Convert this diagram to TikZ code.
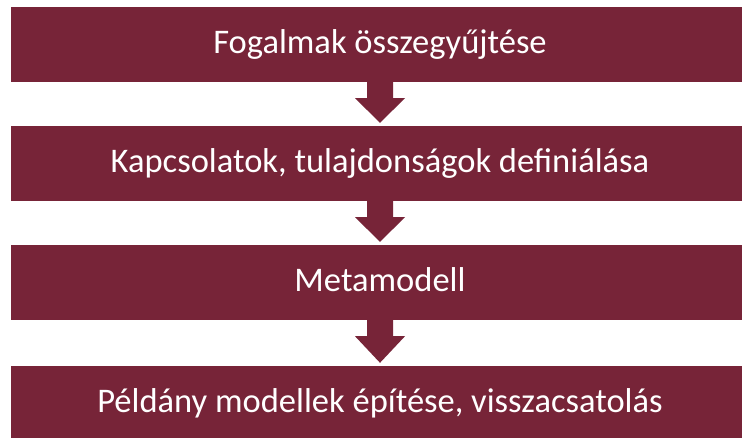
\documentclass[tikz,border=0pt]{standalone}
\usepackage{fontspec}
\setmainfont{Carlito}
\usetikzlibrary{calc}
\definecolor{barc}{RGB}{119,36,56}
\begin{document}
\begin{tikzpicture}[x=1pt,y=1pt,
  bar/.style={fill=barc,text=white,minimum width=738pt,minimum height=75pt,inner sep=0pt,
    font=\fontsize{34.5}{40}\selectfont,text height=22.2pt,text depth=4pt},
  arr/.style={fill=barc}]
\useasboundingbox (0,0) rectangle (742,438);
\clip (0,0) rectangle (742,438);
\fill[white] (0,0) rectangle (742,438);
\node[bar] (a) at (380,{438-44.5}) {Fogalmak összegyűjtése};
\node[bar] (b) at (380,{438-163.5}) {Kapcsolatok, tulajdonságok definiálása};
\node[bar] (c) at (380,{438-282.5}) {Metamodell};
\node[bar] (d) at (380,{438-403.5}) {Példány modellek építése, visszacsatolás};
\foreach \u/\v in {a/b,b/c,c/d}{
  \fill[arr] ($(\u.south)+(-13,0)$) -- ($(\u.south)+(-13,-16)$) -- ($(\u.south)+(-25,-16)$)
    -- ($(\v.north)+(0,3)$) -- ($(\u.south)+(25,-16)$) -- ($(\u.south)+(13,-16)$)
    -- ($(\u.south)+(13,0)$) -- cycle;
}
\end{tikzpicture}
\end{document}
